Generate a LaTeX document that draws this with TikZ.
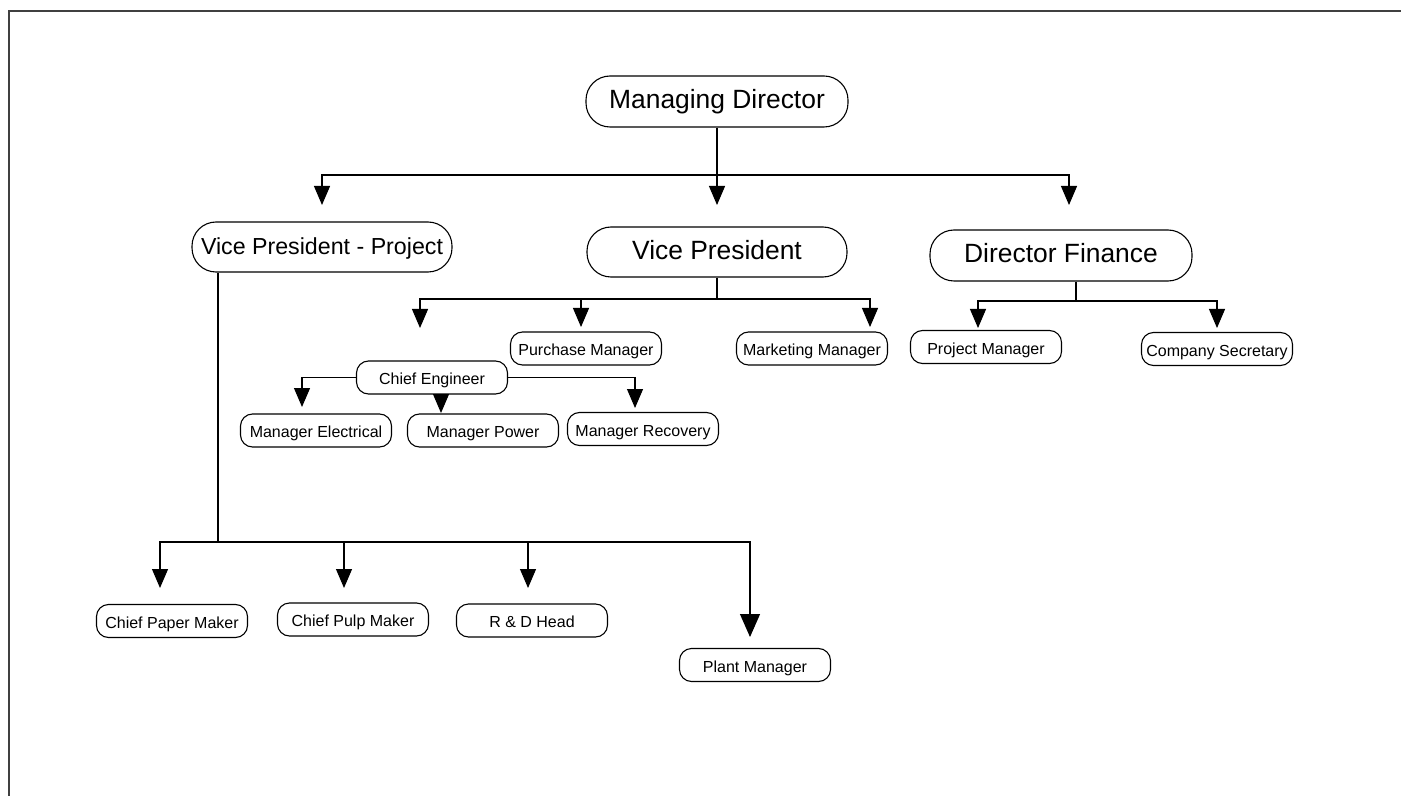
\documentclass[tikz,border=0pt]{standalone}
\usepackage{fontspec}
\setmainfont{Liberation Sans}
\usetikzlibrary{arrows.meta}

\tikzset{
	bigbox/.style={draw, rounded corners=12pt, minimum width=131pt, minimum height=25.5pt, inner sep=0pt, text height=0.72em, text depth=0em, font=\fontsize{13.2}{15}\selectfont},
	smallbox/.style={draw, rounded corners=6pt, minimum width=75.5pt, minimum height=16.5pt, inner sep=0pt, text height=0.72em, text depth=0em, font=\fontsize{8}{9.6}\selectfont},
	arr/.style={-{Triangle[width=8pt,length=9.5pt]}},
	bigarr/.style={-{Triangle[width=10pt,length=11.5pt]}}
}

\begin{document}
\begin{tikzpicture}[x=0.5pt, y=-0.5pt, line width=0.55pt]
					\useasboundingbox (0,0) rectangle (1401,796);
					\draw[black!75, line width=1pt] (9,796) -- (9,11) -- (1401,11);

					%Nodes
					\node[bigbox] (md)  at (717,101.5) {Managing Director};
					\node[bigbox, minimum width=130pt, minimum height=25pt, font=\fontsize{11.6}{14}\selectfont] (vpp) at (322,247) {Vice President - Project};
					\node[bigbox, minimum width=130pt, minimum height=25pt] (vp) at (717,252) {Vice President};
					\node[bigbox] (df)  at (1061,255.5) {Director Finance};

					\node[smallbox] (pm)  at (586,348.5) {Purchase Manager};
					\node[smallbox] (mm)  at (812,348.5) {Marketing Manager};
					\node[smallbox] (ce)  at (432,377.5) {Chief Engineer};
					\node[smallbox] (me)  at (316,430.5) {Manager Electrical};
					\node[smallbox] (mp)  at (483,430.5) {Manager Power};
					\node[smallbox] (mr)  at (643,429) {Manager Recovery};
					\node[smallbox] (prm) at (986,347) {Project Manager};
					\node[smallbox] (cs)  at (1217,349) {Company Secretary};
					\node[smallbox] (cpm) at (172,621) {Chief Paper Maker};
					\node[smallbox] (cpu) at (353,619.5) {Chief Pulp Maker};
					\node[smallbox] (rd)  at (532,620.5) {R \& D Head};
					\node[smallbox] (plm) at (755,665) {Plant Manager};

					%Branch points and arrow tips
					\coordinate      (mdbus) 	at 	(717,175);
					\coordinate      (vpbus) 	at 	(717,299);
					\coordinate      (dfbus) 	at 	(1076,301);
					\coordinate      (vppbus) 	at 	(218,542);
					\coordinate      (t-vpp) 	at 	(322,205);
					\coordinate      (t-vp) 	at 	(717,205);
					\coordinate      (t-df) 	at 	(1069,205);
					\coordinate      (t-ce) 	at 	(420,328);
					\coordinate      (t-pm) 	at 	(581,327);
					\coordinate      (t-mm) 	at 	(870,327);
					\coordinate      (t-me) 	at 	(302,407);
					\coordinate      (t-mp) 	at 	(441,413);
					\coordinate      (t-mr) 	at 	(635,408);
					\coordinate      (t-prm) 	at 	(978,328);
					\coordinate      (t-cs) 	at 	(1217,328);
					\coordinate      (t-cpm) 	at 	(160,588);
					\coordinate      (t-cpu) 	at 	(344,588);
					\coordinate      (t-rd) 	at 	(528,588);
					\coordinate      (t-plm) 	at 	(750,637);

					%Lines
					\draw (md.south) -- (mdbus);
					\draw[arr] (mdbus) -| (t-vpp);
					\draw[arr] (mdbus) -- (t-vp);
					\draw[arr] (mdbus) -| (t-df);

					\draw (vp.south) -- (vpbus);
					\draw[arr] (vpbus) -| (t-ce);
					\draw[arr] (vpbus) -| (t-pm);
					\draw[arr] (vpbus) -| (t-mm);

					\draw[arr] (ce.west) -| (t-me);
					\draw[arr] (ce.south -| t-mp) -- (t-mp);
					\draw[arr] (ce.east) -| (t-mr);

					\draw (dfbus |- df.south) -- (dfbus);
					\draw[arr] (dfbus) -| (t-prm);
					\draw[arr] (dfbus) -| (t-cs);

					\draw (vppbus |- vpp.south) -- (vppbus);
					\draw[arr] (vppbus) -| (t-cpm);
					\draw[arr] (vppbus) -| (t-cpu);
					\draw[arr] (vppbus) -| (t-rd);
					\draw[bigarr] (vppbus) -| (t-plm);

				\end{tikzpicture}
\end{document}
